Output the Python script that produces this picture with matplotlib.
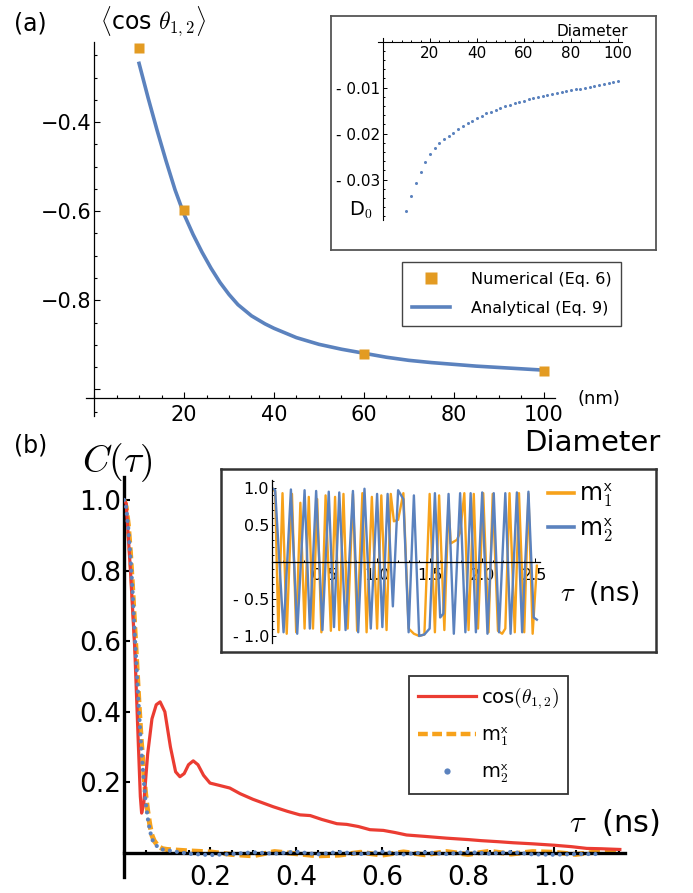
import matplotlib
matplotlib.use("Agg")
import matplotlib.pyplot as plt
from matplotlib.lines import Line2D
from matplotlib.ticker import FixedLocator, FixedFormatter, MultipleLocator

plt.rcParams["font.family"] = ["DejaVu Sans"]
plt.rcParams["mathtext.fontset"] = "cm"

W, H = 693, 893

BLUE = "#5b82be"
ORANGE_A = "#e39b22"
ORANGE_B = "#f7a21b"
RED = "#eb3c32"

# ---- panel (a): <cos theta_12> vs diameter
num_d = [10, 20, 60, 100]
num_cos = [-0.234, -0.597, -0.921, -0.960]

ana_d = [10, 12, 14, 16, 18, 20, 22, 24, 26, 28, 30, 32, 35, 38, 40, 45, 50,
         55, 60, 65, 70, 75, 80, 85, 90, 95, 100]
ana_cos = [-0.268, -0.345, -0.418, -0.487, -0.552, -0.607, -0.652, -0.692,
           -0.728, -0.760, -0.787, -0.810, -0.835, -0.853, -0.863, -0.884,
           -0.899, -0.910, -0.919, -0.928, -0.935, -0.940, -0.944, -0.948,
           -0.951, -0.954, -0.957]

# inset (a): D0 vs diameter
d0_d = list(range(10, 101, 2))
d0_val = [-0.0368, -0.0335, -0.0307, -0.0284, -0.0262, -0.0244, -0.0231,
          -0.0220, -0.0212, -0.0205, -0.0198, -0.0191, -0.0184, -0.0178,
          -0.0172, -0.0166, -0.0161, -0.0156, -0.0152, -0.0148, -0.0144,
          -0.0140, -0.0137, -0.0134, -0.0131, -0.0128, -0.0125, -0.0123,
          -0.0120, -0.0118, -0.0116, -0.0114, -0.0112, -0.0110, -0.0108,
          -0.0106, -0.0104, -0.0102, -0.0100, -0.0098, -0.0096, -0.0094,
          -0.0092, -0.0090, -0.0088, -0.0086]

# ---- panel (b): correlation functions
tau_red = [0.0, 0.005, 0.015, 0.025, 0.033, 0.038, 0.041, 0.046, 0.055, 0.065,
           0.075, 0.084, 0.095, 0.108, 0.12, 0.13, 0.14, 0.15, 0.161, 0.172,
           0.185, 0.20, 0.22, 0.246, 0.27, 0.30, 0.347, 0.38, 0.409, 0.433,
           0.46, 0.495, 0.518, 0.545, 0.572, 0.603, 0.63, 0.657, 0.70, 0.75,
           0.80, 0.83, 0.87, 0.905, 0.95, 1.0, 1.04, 1.076, 1.11, 1.153]
cos_red = [1.0, 0.99, 0.80, 0.58, 0.32, 0.16, 0.113, 0.14, 0.28, 0.38,
           0.42, 0.428, 0.40, 0.30, 0.23, 0.216, 0.225, 0.25, 0.261, 0.25,
           0.22, 0.198, 0.192, 0.184, 0.168, 0.152, 0.131, 0.118, 0.108, 0.106,
           0.095, 0.083, 0.081, 0.075, 0.066, 0.064, 0.058, 0.051, 0.047, 0.042,
           0.038, 0.035, 0.032, 0.029, 0.026, 0.022, 0.018, 0.013, 0.012, 0.010]

tau_m1 = [0.0, 0.005, 0.010, 0.015, 0.020, 0.025, 0.030, 0.035, 0.040, 0.045,
          0.050, 0.055, 0.060, 0.065, 0.070, 0.080, 0.090, 0.10, 0.15, 0.20,
          0.25, 0.30, 0.35, 0.40, 0.45, 0.50, 0.55, 0.60, 0.65, 0.70, 0.75,
          0.80, 0.85, 0.90, 0.95, 1.00, 1.05, 1.10, 1.15]
corr_m1 = [1.0, 0.98, 0.93, 0.85, 0.75, 0.64, 0.53, 0.42, 0.32, 0.24,
           0.17, 0.12, 0.08, 0.05, 0.035, 0.018, 0.012, 0.010, 0.006, 0.003,
           -0.004, -0.008, 0.004, -0.002, -0.008, -0.006, 0.002, -0.006, 0.003,
           -0.005, 0.004, -0.004, 0.005, -0.003, 0.004, 0.002, -0.004, 0.003,
           0.004]

tau_m2 = [0.0, 0.005, 0.010, 0.015, 0.020, 0.025, 0.030, 0.035, 0.040, 0.045,
          0.050, 0.055, 0.060, 0.065, 0.070, 0.080, 0.090, 0.10, 0.15, 0.20,
          0.25, 0.30, 0.35, 0.40, 0.45, 0.50, 0.55, 0.60, 0.65, 0.70, 0.75,
          0.80, 0.85, 0.90, 0.95, 1.00, 1.05, 1.10]
corr_m2 = [1.0, 0.98, 0.92, 0.84, 0.74, 0.62, 0.51, 0.40, 0.30, 0.22,
           0.15, 0.10, 0.065, 0.04, 0.028, 0.015, 0.010, 0.008, -0.002, -0.006,
           -0.003, 0.002, -0.002, 0.004, -0.004, 0.003, -0.003, 0.004, -0.004,
           0.002, -0.003, 0.003, -0.002, 0.003, -0.004, -0.005, -0.003, -0.003]

# inset (b): m^x time traces (turning points)
ins_t1 = [0.00, 0.03, 0.06, 0.10, 0.14, 0.19, 0.23, 0.27, 0.31, 0.35,
          0.39, 0.43, 0.47, 0.51, 0.56, 0.60, 0.64, 0.68, 0.72, 0.77,
          0.81, 0.86, 0.90, 0.95, 1.00, 1.04, 1.09, 1.13, 1.16, 1.20,
          1.25, 1.30, 1.35, 1.40, 1.45, 1.50, 1.55, 1.59, 1.64, 1.68,
          1.70, 1.76, 1.79, 1.83, 1.87, 1.92, 1.96, 2.01, 2.06, 2.10,
          2.15, 2.19, 2.22, 2.26, 2.31, 2.35, 2.40, 2.44, 2.48, 2.52]
ins_m1 = [1.00, 0.95, -0.95, 0.93, -0.97, 0.92, -0.95, 0.80, -0.90, 0.88,
          -0.90, 0.85, -0.95, 0.90, -0.93, 0.88, -0.92, 0.92, -0.90, 0.92,
          -0.93, 0.93, -0.95, 0.88, -0.90, 0.90, -0.92, 0.92, 0.55, 0.57,
          0.93, -0.90, -0.97, -1.00, -0.98, 0.92, -0.95, 0.90, -0.92, 0.80,
          0.25, 0.30, 0.40, 0.93, -0.92, 0.92, -0.90, 0.93, -0.95, 0.92,
          -0.93, -0.97, -0.90, 0.93, -0.95, 0.93, -0.95, 0.92, -0.97, -0.05]
ins_t2 = [0.00, 0.03, 0.11, 0.18, 0.24, 0.31, 0.36, 0.42, 0.48, 0.54,
          0.59, 0.64, 0.70, 0.77, 0.82, 0.88, 0.94, 1.00, 1.05, 1.10,
          1.15, 1.20, 1.25, 1.30, 1.35, 1.40, 1.45, 1.50, 1.55, 1.60,
          1.63, 1.68, 1.73, 1.79, 1.84, 1.89, 1.94, 2.00, 2.05, 2.11,
          2.16, 2.22, 2.27, 2.33, 2.38, 2.44, 2.49, 2.52]
ins_m2 = [1.00, 0.97, -0.95, 0.98, -0.97, 0.97, -0.90, 0.96, -0.92, 0.95,
          -0.88, 0.94, -0.92, 0.96, -0.95, 0.99, -0.90, 0.92, -0.88, 0.92,
          -0.60, 0.97, 0.85, -0.95, 0.90, -1.00, -0.98, -0.90, 0.93, -0.75,
          -0.70, 0.92, -0.97, 0.93, -0.95, 0.93, -0.95, 0.94, -0.97, 0.93,
          -0.95, 0.93, -0.97, 0.94, -0.95, 0.95, -0.75, -0.78]

M1_LABEL = r"m$_\mathsf{1}^\mathsf{x}$"
M2_LABEL = r"m$_\mathsf{2}^\mathsf{x}$"

fig = plt.figure(figsize=(W / 100, H / 100), dpi=100)


def box(x0, y0, x1, y1):
    # pixel box (top-left origin) -> figure fraction rect
    return [x0 / W, 1 - y1 / H, (x1 - x0) / W, (y1 - y0) / H]


def put(x, y, s, **kw):
    fig.text(x / W, 1 - y / H, s, ha="center", va="center", **kw)


def frame_box(rect, lw, color):
    fr = fig.add_axes(rect)
    fr.set_xticks([])
    fr.set_yticks([])
    for sp in fr.spines.values():
        sp.set_linewidth(lw)
        sp.set_color(color)
    return fr


# ================= panel (a) =================
ax_a = fig.add_axes(box(86, 42, 555, 416))
ax_a.set_xlim(-1.8, 102.5)
ax_a.set_ylim(-1.06, -0.22)
ax_a.patch.set_alpha(0)
ax_a.plot(ana_d, ana_cos, color=BLUE, lw=2.6, zorder=2)
ax_a.plot(num_d, num_cos, "s", color=ORANGE_A, ms=7.5, mec="none", zorder=3,
          clip_on=False)
for s in ["top", "right"]:
    ax_a.spines[s].set_visible(False)
ax_a.spines["left"].set_position(("data", 0))
ax_a.spines["bottom"].set_position(("data", -1.02))
for s in ["left", "bottom"]:
    ax_a.spines[s].set_linewidth(0.9)
ax_a.xaxis.set_major_locator(FixedLocator([20, 40, 60, 80, 100]))
ax_a.xaxis.set_minor_locator(MultipleLocator(5))
ax_a.yaxis.set_major_locator(FixedLocator([-1.0, -0.8, -0.6, -0.4]))
ax_a.yaxis.set_major_formatter(FixedFormatter(["", "\u22120.8", "\u22120.6", "\u22120.4"]))
ax_a.yaxis.set_minor_locator(MultipleLocator(0.05))
ax_a.tick_params(which="both", direction="in", width=0.8, labelsize=15)
ax_a.tick_params(which="major", length=4)
ax_a.tick_params(which="minor", length=2)
ax_a.tick_params(axis="x", pad=5)
ax_a.tick_params(axis="y", pad=2)

handles_a = [Line2D([], [], ls="none", marker="s", color=ORANGE_A, ms=8, mec="none"),
             Line2D([], [], color=BLUE, lw=2.6)]
leg_a = ax_a.legend(handles_a, ["Numerical (Eq. 6)", "Analytical (Eq. 9)"],
                    loc="upper left", bbox_to_anchor=(402 / W, 1 - 262 / H),
                    bbox_transform=fig.transFigure, frameon=True, fancybox=False,
                    edgecolor="#444444", framealpha=1, fontsize=11.5,
                    handlelength=2.4, handletextpad=1.3, borderpad=0.6,
                    labelspacing=0.9, borderaxespad=0)
leg_a.get_frame().set_linewidth(1.0)

put(30, 23, "(a)", fontsize=17)
put(153, 22, r"$\langle$cos $\theta_{1,2}\rangle$", fontsize=17)
put(599, 399, "(nm)", fontsize=13)
put(592, 443, "Diameter", fontsize=21)

# inset (a)
frame_box(box(331, 16, 656, 250), 1.3, "#555555")
ax_ia = fig.add_axes(box(378, 38, 622, 220))
ax_ia.patch.set_alpha(0)
ax_ia.set_xlim(-2.1, 101.7)
ax_ia.set_ylim(-0.0388, 0.0008)
ax_ia.plot(d0_d, d0_val, "o", color=BLUE, ms=2.2, mec="none")
for s in ["top", "right"]:
    ax_ia.spines[s].set_visible(False)
ax_ia.spines["left"].set_position(("data", 0))
ax_ia.spines["bottom"].set_position(("data", 0))
for s in ["left", "bottom"]:
    ax_ia.spines[s].set_linewidth(0.8)
ax_ia.xaxis.set_major_locator(FixedLocator([20, 40, 60, 80, 100]))
ax_ia.xaxis.set_minor_locator(MultipleLocator(4))
ax_ia.yaxis.set_major_locator(FixedLocator([-0.03, -0.02, -0.01]))
ax_ia.yaxis.set_major_formatter(FixedFormatter(["- 0.03", "- 0.02", "- 0.01"]))
ax_ia.yaxis.set_minor_locator(MultipleLocator(0.002))
ax_ia.tick_params(which="both", direction="in", width=0.7, labelsize=11)
ax_ia.tick_params(which="major", length=3)
ax_ia.tick_params(which="minor", length=1.5)
ax_ia.tick_params(axis="x", pad=3)
ax_ia.tick_params(axis="y", pad=2)
put(592, 32, "Diameter", fontsize=11)
put(361, 210, r"D$_0$", fontsize=14)

# ================= panel (b) =================
ax_b = fig.add_axes(box(124, 477, 625, 877))
ax_b.set_xlim(0, 1.165)
ax_b.set_ylim(-0.068, 1.065)
ax_b.patch.set_alpha(0)
ax_b.plot(tau_m1, corr_m1, color=ORANGE_B, lw=3.6, ls=(0, (2.2, 1.0)), zorder=2)
ax_b.plot(tau_red, cos_red, color=RED, lw=2.3, zorder=3)
ax_b.plot(tau_m2, corr_m2, color=BLUE, lw=3.0, ls=(0, (0.01, 1.7)),
          dash_capstyle="round", zorder=4)
for s in ["top", "right"]:
    ax_b.spines[s].set_visible(False)
ax_b.spines["bottom"].set_position(("data", 0))
for s in ["left", "bottom"]:
    ax_b.spines[s].set_linewidth(2.4)
ax_b.xaxis.set_major_locator(FixedLocator([0.2, 0.4, 0.6, 0.8, 1.0]))
ax_b.xaxis.set_minor_locator(MultipleLocator(0.05))
ax_b.yaxis.set_major_locator(FixedLocator([0.2, 0.4, 0.6, 0.8, 1.0]))
ax_b.tick_params(which="both", direction="in", width=1.5, labelsize=19)
ax_b.tick_params(which="major", length=4)
ax_b.tick_params(which="minor", length=2.5)
ax_b.tick_params(axis="x", pad=9)
ax_b.tick_params(axis="y", pad=2)

handles_b = [Line2D([], [], color=RED, lw=2.3),
             Line2D([], [], color=ORANGE_B, lw=3.2, ls=(0, (2.2, 1.0))),
             Line2D([], [], ls="none", marker="o", color=BLUE, ms=4.5, mec="none")]
leg_b = ax_b.legend(handles_b, [r"cos$(\theta_{1,2})$", M1_LABEL, M2_LABEL],
                    loc="upper left", bbox_to_anchor=(409 / W, 1 - 676 / H),
                    bbox_transform=fig.transFigure, frameon=True, fancybox=False,
                    edgecolor="#333333", framealpha=1, fontsize=14,
                    handlelength=3.0, handletextpad=0.25, borderpad=0.45,
                    labelspacing=0.75, borderaxespad=0)
leg_b.get_frame().set_linewidth(1.3)

put(31, 446, "(b)", fontsize=17)
put(117, 463, r"$C(\tau)$", fontsize=27)
put(615, 822, r"$\tau$  (ns)", fontsize=22)

# inset (b)
frame_box(box(221, 469, 656, 652), 1.8, "#333333")
ax_ib = fig.add_axes(box(272, 480, 540, 643))
ax_ib.patch.set_alpha(0)
ax_ib.set_xlim(0, 2.55)
ax_ib.set_ylim(-1.095, 1.108)
ax_ib.plot(ins_t1, ins_m1, color=ORANGE_B, lw=1.7, solid_joinstyle="round")
ax_ib.plot(ins_t2, ins_m2, color=BLUE, lw=1.7, solid_joinstyle="round")
for s in ["top", "right"]:
    ax_ib.spines[s].set_visible(False)
ax_ib.spines["bottom"].set_position(("data", 0))
for s in ["left", "bottom"]:
    ax_ib.spines[s].set_linewidth(0.9)
ax_ib.xaxis.set_major_locator(FixedLocator([0.5, 1.0, 1.5, 2.0, 2.5]))
ax_ib.xaxis.set_minor_locator(MultipleLocator(0.1))
ax_ib.yaxis.set_major_locator(FixedLocator([-1.0, -0.5, 0.5, 1.0]))
ax_ib.yaxis.set_major_formatter(FixedFormatter(["- 1.0", "- 0.5", "0.5", "1.0"]))
ax_ib.yaxis.set_minor_locator(MultipleLocator(0.1))
ax_ib.tick_params(which="both", direction="in", width=0.7, labelsize=11.5)
ax_ib.tick_params(which="major", length=3)
ax_ib.tick_params(which="minor", length=1.5)
ax_ib.tick_params(axis="x", pad=4)
ax_ib.tick_params(axis="y", pad=2)

handles_ib = [Line2D([], [], color=ORANGE_B, lw=2.6),
              Line2D([], [], color=BLUE, lw=2.6)]
ax_ib.legend(handles_ib, [M1_LABEL, M2_LABEL],
             loc="upper left", bbox_to_anchor=(548 / W, 1 - 482 / H),
             bbox_transform=fig.transFigure, frameon=False, fontsize=17,
             handlelength=1.1, handletextpad=0.2, borderpad=0,
             labelspacing=0.3, borderaxespad=0)
put(600, 593, r"$\tau$  (ns)", fontsize=19)

fig.savefig("out.png", dpi=100)
